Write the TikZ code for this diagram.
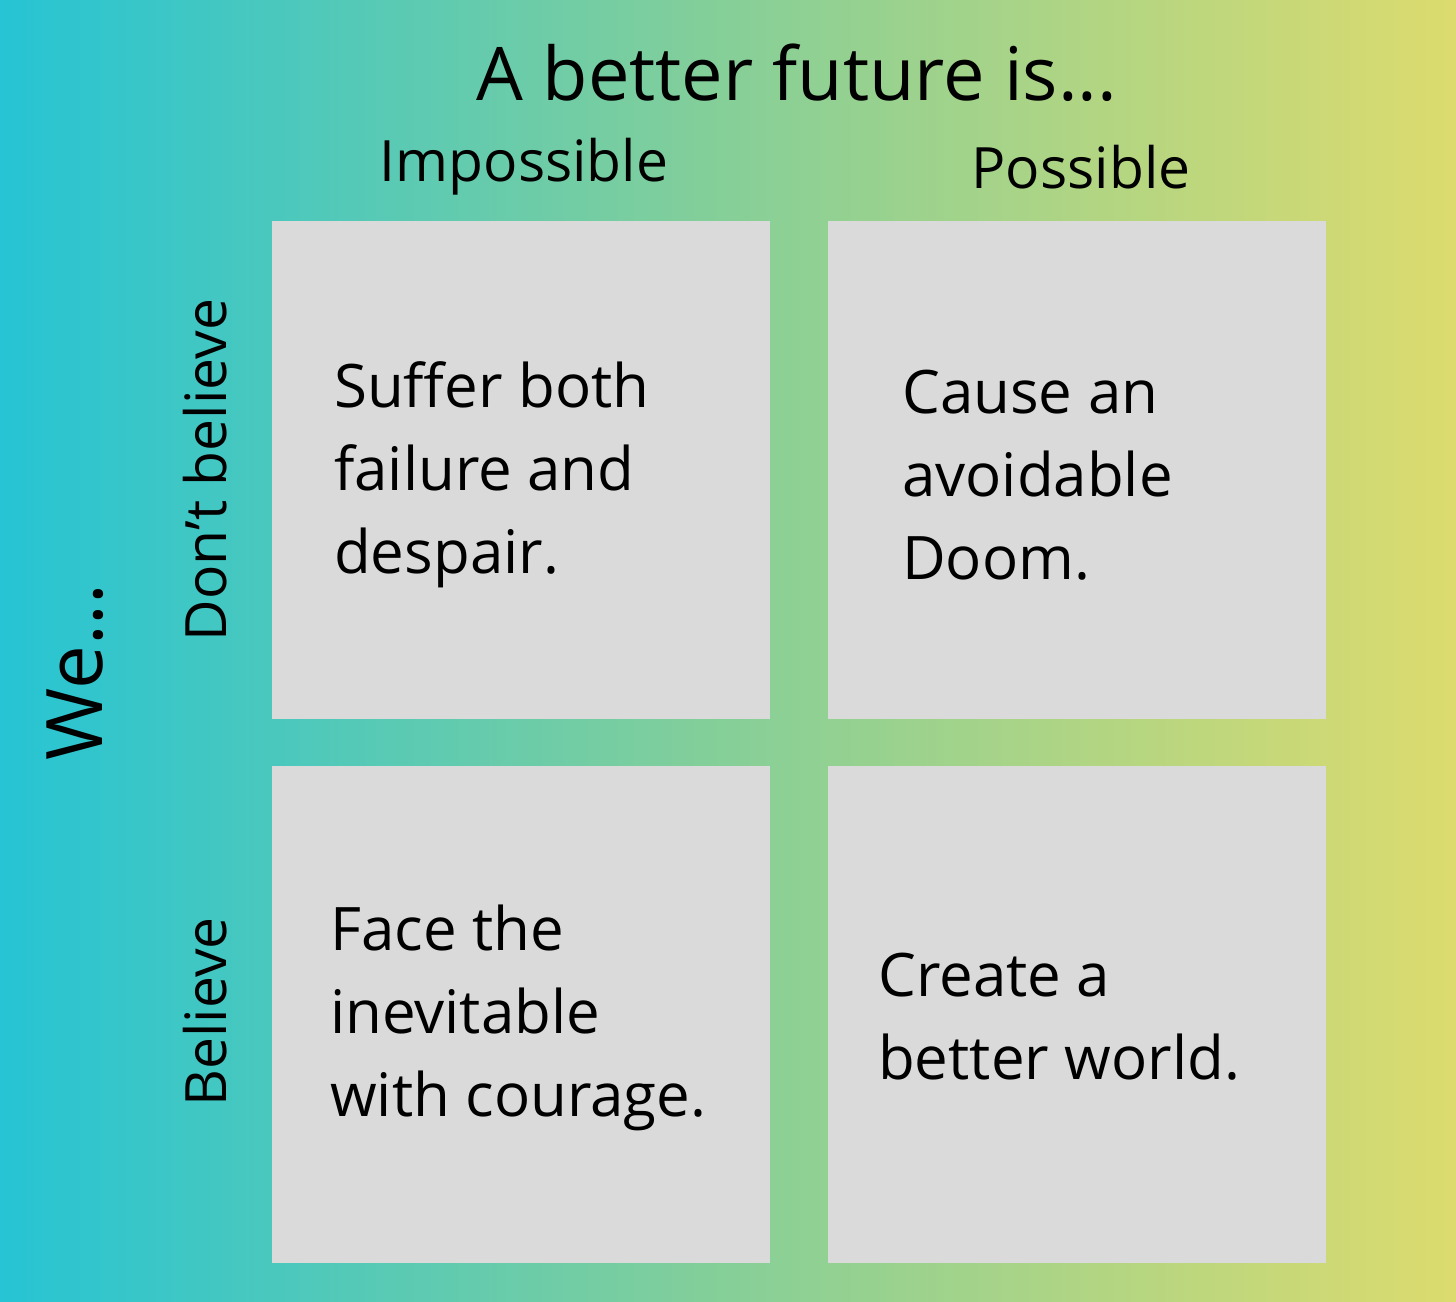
\documentclass[tikz,border=0pt]{standalone}
\usepackage{fontspec}
\setmainfont{Open Sans}
\definecolor{cyanL}{HTML}{26C4D4}
\definecolor{midG}{HTML}{86CF98}
\definecolor{yelR}{HTML}{DCDB6E}
\definecolor{boxg}{HTML}{DADADA}
\tikzset{
  cell/.style={fill=boxg,draw=none},
  body/.style={anchor=west,align=left,font=\fontsize{60}{83}\selectfont,inner sep=0pt},
  head/.style={font=\fontsize{57}{68}\selectfont,inner sep=0pt},
}
\begin{document}
\begin{tikzpicture}[x=1pt,y=-1pt]
\shade[left color=cyanL,right color=yelR,middle color=midG] (0,0) rectangle (1456,1301);
\useasboundingbox (0,0) rectangle (1456,1301);
\fill[cell] (272,221) rectangle (770,719);
\fill[cell] (828,221) rectangle (1326,719);
\fill[cell] (272,766) rectangle (770,1263);
\fill[cell] (828,766) rectangle (1326,1263);
\node[font=\fontsize{74}{80}\selectfont,inner sep=0pt] (title) at (797,73) {A better future is...};
\node[head] (imp) at (524,167) {Impossible};
\node[head] (pos) at (1081,167) {Possible};
\node[head,rotate=90] (dont) at (205,470) {Don’t believe};
\node[head,rotate=90] (bel) at (205,1012) {Believe};
\node[font=\fontsize{78}{80}\selectfont,inner sep=0pt,rotate=90] (we) at (75,672) {We...};
\node[body] (a) at (334,475) {Suffer both\\failure and\\despair.};
\node[body] (b) at (902,475) {Cause an\\avoidable\\Doom.};
\node[body] (c) at (330,1018) {Face the\\inevitable\\with courage.};
\node[body] (d) at (878,1017) {Create a\\better world.};
\end{tikzpicture}
\end{document}
